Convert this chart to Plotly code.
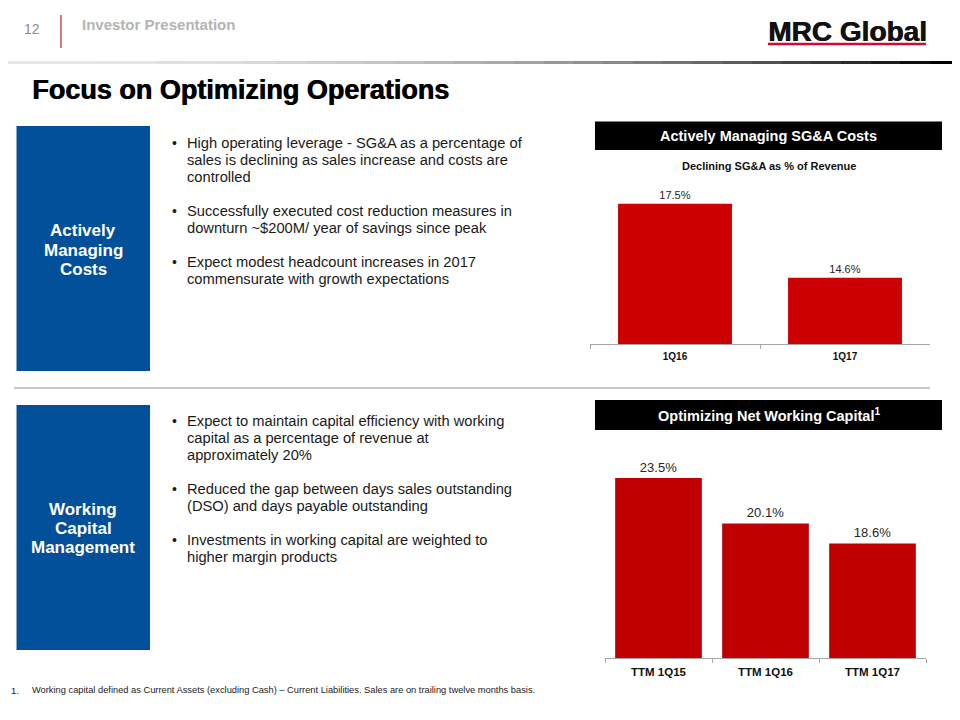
import plotly.graph_objects as go

# ---------------- data ----------------
sga_categories = ["1Q16", "1Q17"]
sga_values = [17.5, 14.6]

nwc_categories = ["TTM 1Q15", "TTM 1Q16", "TTM 1Q17"]
nwc_values = [23.5, 20.1, 18.6]

top_bullets = [
    ["High operating leverage - SG&A as a percentage of",
     "sales is declining as sales increase and costs are",
     "controlled"],
    ["Successfully executed cost reduction measures in",
     "downturn ~$200M/ year of savings since peak"],
    ["Expect modest headcount increases in 2017",
     "commensurate with growth expectations"],
]
bottom_bullets = [
    ["Expect to maintain capital efficiency with working",
     "capital as a percentage of revenue at",
     "approximately 20%"],
    ["Reduced the gap between days sales outstanding",
     "(DSO) and days payable outstanding"],
    ["Investments in working capital are weighted to",
     "higher margin products"],
]

FONT = "Liberation Sans, Arial, sans-serif"
OFF = 8                      # page body margin of the browser
W, H = 960 - OFF, 720 - OFF  # figure size so that it ends at the window edge


def px(x):
    return (x - OFF) / W


def py(y):
    return 1 - (y - OFF) / H


fig = go.Figure()

fig.add_trace(go.Bar(
    x=sga_categories, y=sga_values, xaxis="x", yaxis="y",
    width=0.67, marker=dict(color="#CC0000", line=dict(width=0)),
    text=[f"{v}%" for v in sga_values], textposition="outside",
    textfont=dict(family=FONT, size=11, color="#262626"),
    cliponaxis=False, hoverinfo="skip", showlegend=False,
))
fig.add_trace(go.Bar(
    x=nwc_categories, y=nwc_values, xaxis="x2", yaxis="y2",
    width=0.81, marker=dict(color="#C00000", line=dict(width=0)),
    text=[f"{v}%" for v in nwc_values], textposition="outside",
    textfont=dict(family=FONT, size=13, color="#262626"),
    cliponaxis=False, hoverinfo="skip", showlegend=False,
))

axis_common = dict(
    showline=True, linecolor="#A6A6A6", linewidth=1,
    ticks="outside", tickson="boundaries", ticklen=4, tickcolor="#A6A6A6",
    showgrid=False, zeroline=False, fixedrange=True, ticklabelstandoff=3,
)

shapes = []
annotations = []

# header gradient line (light at left, black at right)
nseg = 32
for i in range(nseg):
    t = i / (nseg - 1)
    c = int(232 * (1 - t ** 2))
    col = f"rgb({c},{c},{c})"
    xa = OFF + round(i * W / nseg)
    xb = OFF + round((i + 1) * W / nseg)
    shapes.append(dict(type="rect", xref="paper", yref="paper",
                       x0=px(xa), x1=px(xb), y0=py(61), y1=py(64),
                       fillcolor=col, line=dict(width=0)))

# red vertical line in header
shapes.append(dict(type="line", xref="paper", yref="paper",
                   x0=px(61), x1=px(61), y0=py(15), y1=py(48),
                   line=dict(color="#C0504D", width=1.5)))
# logo underline
shapes.append(dict(type="line", xref="paper", yref="paper",
                   x0=px(768), x1=px(926), y0=py(44), y1=py(44),
                   line=dict(color="#C8102E", width=2.5)))

# blue boxes
for y0, y1 in [(126, 371), (405, 650)]:
    shapes.append(dict(type="rect", xref="paper", yref="paper",
                       x0=px(16.5), x1=px(150), y0=py(y0), y1=py(y1),
                       fillcolor="#02509A", line=dict(width=0), layer="below"))

# separator
shapes.append(dict(type="line", xref="paper", yref="paper",
                   x0=px(14), x1=px(930), y0=py(388), y1=py(388),
                   line=dict(color="#C8C8C8", width=2)))

# black title boxes
for y0, y1 in [(121.5, 150), (400, 430)]:
    shapes.append(dict(type="rect", xref="paper", yref="paper",
                       x0=px(595), x1=px(942), y0=py(y0), y1=py(y1),
                       fillcolor="#000000", line=dict(width=0), layer="below"))


def note(x, y, text, size, color="#000000", xanchor="left", yanchor="middle",
         align="left", shadow=None):
    font = dict(family=FONT, size=size, color=color)
    if shadow:
        font["shadow"] = shadow
    annotations.append(dict(xref="paper", yref="paper", x=px(x), y=py(y),
                            text=text, showarrow=False, xanchor=xanchor,
                            yanchor=yanchor, align=align, font=font))


# header texts
note(22, 29, "12", 14, "#8C8C8C")
note(80, 24, "<b>Investor Presentation</b>", 15, "#B4B4B4")
note(766, 32, "<b>MRC Global</b>", 28, "#111111", shadow="0.8px 0 0 #111111")
note(30, 90, "<b>Focus on Optimizing Operations</b>", 27, "#000000",
     shadow="0.8px 0 0 #000000")

# blue box labels
for i, w in enumerate(["Actively", "Managing", "Costs"]):
    note(83, 231 + 19 * i, f"<b>{w}</b>", 17, "#FFFFFF", xanchor="center")
for i, w in enumerate(["Working", "Capital", "Management"]):
    note(83, 509 + 19 * i, f"<b>{w}</b>", 17, "#FFFFFF", xanchor="center")


# bullets
def bullets(groups, y_start):
    y = y_start
    for g in groups:
        note(174, y, "•", 14, "#1A1A1A", xanchor="center")
        for line in g:
            note(185, y, line, 14.7, "#1A1A1A")
            y += 17
        y += 17


bullets(top_bullets, 143)
bullets(bottom_bullets, 421)

# chart titles
note(768.5, 136, "<b>Actively Managing SG&A Costs</b>", 14.5, "#FFFFFF", xanchor="center")
note(768.5, 415, "<b>Optimizing Net Working Capital<sup>1</sup></b>", 14.5, "#FFFFFF", xanchor="center")
note(768.5, 166, "<b>Declining SG&A as % of Revenue</b>", 11, "#111111", xanchor="center")

# footnote
note(9, 690, "1.", 9.5, "#1A1A1A")
note(30, 690, "Working capital defined as Current Assets (excluding Cash) – Current Liabilities. "
     "Sales are on trailing twelve months basis.", 9.3, "#1A1A1A")

fig.update_layout(
    width=W, height=H,
    margin=dict(l=0, r=0, t=0, b=0),
    paper_bgcolor="#FFFFFF", plot_bgcolor="rgba(0,0,0,0)",
    font=dict(family=FONT),
    xaxis=dict(domain=[px(590), px(930)], anchor="y",
               tickfont=dict(family=FONT, size=10, color="#111111"),
               tickprefix="<b>", ticksuffix="</b>", **axis_common),
    yaxis=dict(domain=[py(344), py(175)], anchor="x", range=[12, 12 + (344 - 175) / 25.5],
               visible=False, fixedrange=True),
    xaxis2=dict(domain=[px(605), px(926)], anchor="y2",
                tickfont=dict(family=FONT, size=11.5, color="#111111"),
                tickprefix="<b>", ticksuffix="</b>", **axis_common),
    yaxis2=dict(domain=[py(658.3), py(450)], anchor="x2", range=[10, 10 + (658.3 - 450) / 13.35],
                visible=False, fixedrange=True),
    shapes=shapes,
    annotations=annotations,
)

fig.write_html("out.html")
